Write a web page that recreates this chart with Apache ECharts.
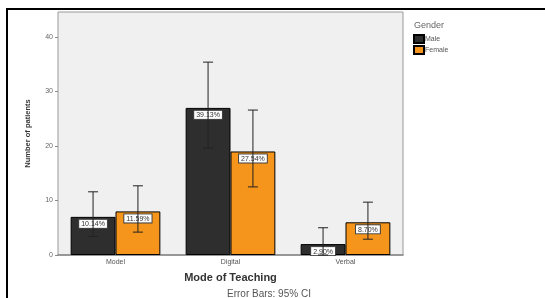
<!DOCTYPE html>
<html>
<head>
<meta charset="utf-8">
<script src="https://cdn.jsdelivr.net/npm/echarts@6/dist/echarts.min.js"></script>
<style>
  html, body { margin: 0; padding: 0; background: #fff; }
  #chart { width: 545px; height: 298px; }
</style>
</head>
<body>
<div id="chart"></div>
<script>
// data
const modes = ['Model', 'Digital', 'Verbal'];
const maleCounts = [7, 27, 2];
const femaleCounts = [8, 19, 6];
const maleLabels = ['10.14%', '39.13%', '2.90%'];
const femaleLabels = ['11.59%', '27.54%', '8.70%'];
const maleLow = [3.4, 19.6, 0];
const maleHigh = [11.6, 35.4, 5.0];
const femaleLow = [4.2, 12.5, 2.9];
const femaleHigh = [12.7, 26.6, 9.7];

const catGap = 0.22;
const font = 'Liberation Sans';

const chart = echarts.init(document.getElementById('chart'));

function errorSeries(name, low, high, side) {
    return {
        name: name,
        type: 'custom',
        z: 10,
        silent: true,
        legendHoverLink: false,
        data: modes.map((m, i) => [i, low[i], high[i]]),
        renderItem: function (params, api) {
            const catW = api.size([1, 0])[0];
            const barW = catW * (1 - catGap) / 2;
            const lo = api.coord([api.value(0), api.value(1)]);
            const hi = api.coord([api.value(0), api.value(2)]);
            const x = lo[0] + side * barW / 2;
            const cap = 5;
            const style = { stroke: '#222', lineWidth: 1, fill: null };
            return {
                type: 'group',
                children: [
                    { type: 'line', shape: { x1: x, y1: lo[1], x2: x, y2: hi[1] }, style: style },
                    { type: 'line', shape: { x1: x - cap, y1: hi[1], x2: x + cap, y2: hi[1] }, style: style },
                    { type: 'line', shape: { x1: x - cap, y1: lo[1], x2: x + cap, y2: lo[1] }, style: style }
                ]
            };
        }
    };
}

function barLabel(texts) {
    return {
        show: true,
        position: 'insideTop',
        distance: 3,
        formatter: p => texts[p.dataIndex],
        fontFamily: font,
        fontSize: 7,
        color: '#333',
        backgroundColor: '#fff',
        borderColor: '#444',
        borderWidth: 1,
        padding: [1, 2, 0, 2]
    };
}

const option = {
    animation: false,
    textStyle: { fontFamily: font },
    title: {
        text: 'Gender',
        left: 409,
        top: 16,
        textStyle: { fontSize: 9, fontWeight: 'normal', color: '#666', fontFamily: font }
    },
    legend: {
        data: ['Male', 'Female'],
        orient: 'vertical',
        left: 408,
        top: 29,
        icon: 'rect',
        itemWidth: 10,
        itemHeight: 8,
        itemGap: 1,
        textStyle: { fontSize: 7, color: '#555', fontFamily: font, padding: [0, 0, 0, -4] }
    },
    grid: {
        left: 58,
        top: 12,
        width: 345,
        height: 243,
        show: true,
        backgroundColor: '#f0f0f0',
        borderColor: '#999',
        borderWidth: 1
    },
    xAxis: {
        type: 'category',
        data: modes,
        name: 'Mode of Teaching',
        nameLocation: 'middle',
        nameGap: 17,
        nameTextStyle: { fontSize: 11, fontWeight: 'bold', color: '#333', fontFamily: font },
        axisLine: { lineStyle: { color: '#888', width: 1.5 } },
        axisTick: { show: false },
        axisLabel: { fontSize: 7, color: '#555', margin: 4 }
    },
    yAxis: {
        type: 'value',
        min: 0,
        max: 44.6,
        interval: 10,
        name: 'Number of patients',
        nameLocation: 'middle',
        nameGap: 26,
        nameTextStyle: { fontSize: 7.5, fontWeight: 'bold', color: '#333', fontFamily: font },
        axisLine: { show: false },
        axisTick: { show: true, length: 3, lineStyle: { color: '#888' } },
        axisLabel: { fontSize: 7, color: '#666', margin: 5, showMaxLabel: false },
        splitLine: { show: false }
    },
    graphic: [
        {
            type: 'rect',
            shape: { x: 7, y: 9, width: 600, height: 400 },
            style: { fill: null, stroke: '#000', lineWidth: 2 },
            silent: true
        },
        {
            type: 'text',
            left: 227,
            top: 289,
            style: { text: 'Error Bars: 95% CI', fontSize: 10, fill: '#555', fontFamily: font }
        }
    ],
    series: [
        {
            name: 'Male',
            type: 'bar',
            data: maleCounts,
            barGap: '0%',
            barCategoryGap: (catGap * 100) + '%',
            itemStyle: { color: '#2e2e2e', borderColor: '#000', borderWidth: 1 },
            label: barLabel(maleLabels)
        },
        {
            name: 'Female',
            type: 'bar',
            data: femaleCounts,
            barGap: '0%',
            barCategoryGap: (catGap * 100) + '%',
            itemStyle: { color: '#f5951b', borderColor: '#000', borderWidth: 1 },
            label: barLabel(femaleLabels)
        },
        errorSeries('maleCI', maleLow, maleHigh, -1),
        errorSeries('femaleCI', femaleLow, femaleHigh, 1)
    ]
};

chart.setOption(option);
</script>
</body>
</html>
